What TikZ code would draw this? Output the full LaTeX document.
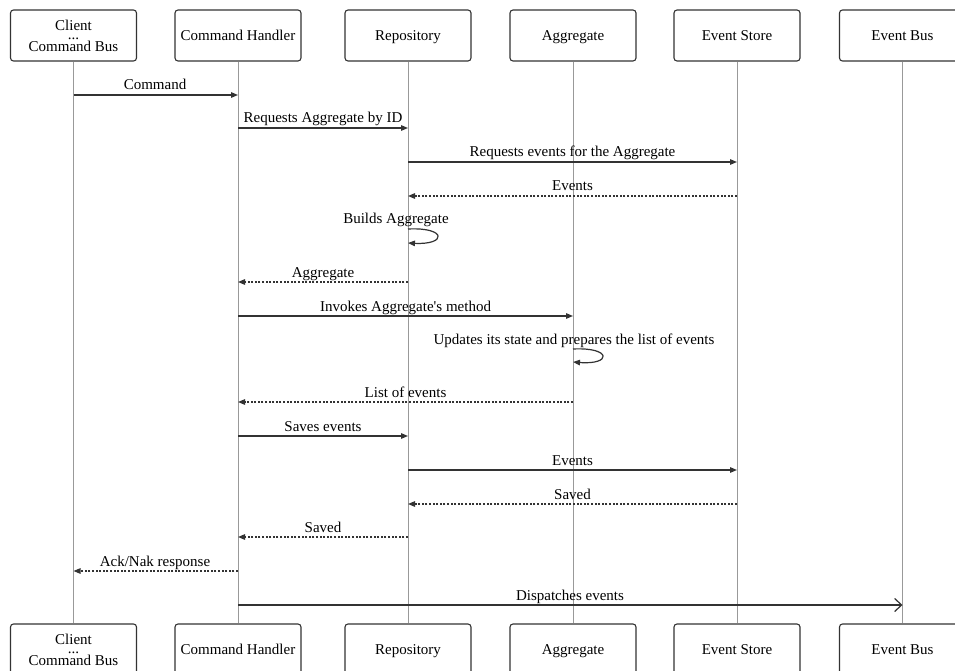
\documentclass[tikz,border=0pt]{standalone}
\usepackage{fontspec}
\setmainfont{Liberation Serif}[Ligatures=TeXOff]
\usetikzlibrary{arrows.meta}
\definecolor{edge}{HTML}{333333}
\definecolor{life}{HTML}{999999}
\tikzset{
  actor/.style={draw=edge, line width=1.1pt, fill=white, rounded corners=3pt,
    minimum width=126pt, minimum height=51pt, inner sep=0pt, align=center,
    font=\fontsize{15}{17}\selectfont},
  oneline/.style={actor, text height=13pt, text depth=3pt},
  lifeline/.style={draw=life, line width=0.8pt},
  msg/.style={draw=edge, line width=1.2pt, -{Triangle[length=7pt,width=5.5pt]}},
  reply/.style={msg, dash pattern=on 2pt off 1.6pt},
  async/.style={draw=edge, line width=1.2pt, -{Straight Barb[length=7pt,width=13pt,line width=1.2pt]}},
  lbl/.style={anchor=base, inner sep=0pt, font=\fontsize{15}{17}\selectfont}
}
\begin{document}
\begin{tikzpicture}[x=1pt, y=-1pt]
\clip (0,0) rectangle (955,671);
\fill[white] (0,0) rectangle (955,671);

% participants, top row and bottom row
\node[actor] (cl-top) at (73.5,35.5) {Client\\[-8pt]...\\[-5pt]Command Bus};
\node[actor] (cl-bot) at (73.5,649.5) {Client\\[-8pt]...\\[-5pt]Command Bus};
\draw[lifeline] (cl-top.south) -- (cl-bot.north);
\foreach \nm/\xx/\txt in {ch/238/{Command Handler},
                          re/408/{Repository},
                          ag/573/{Aggregate},
                          es/737/{Event Store},
                          eb/902.5/{Event Bus}}{
  \node[oneline] (\nm-top) at (\xx,35.5) {\txt};
  \node[oneline] (\nm-bot) at (\xx,649.5) {\txt};
  \draw[lifeline] (\nm-top.south) -- (\nm-bot.north);
}

% message anchors on the lifelines
\foreach \nm in {cl,ch,re,ag,es,eb}{
  \foreach \yy in {95,128,162,196,229,243,282,316,349,362,402,436,470,504,537,571,605}{
    \coordinate (\nm-\yy) at (\nm-top.south |- 0,\yy);
  }
}

% messages
\draw[msg] (cl-95) -- (ch-95);
\node[lbl] (m1) at (155,90) {Command};

\draw[msg] (ch-128) -- (re-128);
\node[lbl] (m2) at (323,123) {Requests Aggregate by ID};

\draw[msg] (re-162) -- (es-162);
\node[lbl] (m3) at (572.5,157) {Requests events for the Aggregate};

\draw[reply] (es-196) -- (re-196);
\node[lbl] (m4) at (572.5,191) {Events};

\node[lbl] (m5) at (396,223) {Builds Aggregate};
\draw[msg] (re-229) .. controls (447,227) and (447,245) .. (re-243);

\draw[reply] (re-282) -- (ch-282);
\node[lbl] (m6) at (323,277) {Aggregate};

\draw[msg] (ch-316) -- (ag-316);
\node[lbl] (m7) at (405.5,311) {Invokes Aggregate's method};

\node[lbl] (m8) at (574,344) {Updates its state and prepares the list of events};
\draw[msg] (ag-349) .. controls (612,347) and (612,365) .. (ag-362);

\draw[reply] (ag-402) -- (ch-402);
\node[lbl] (m9) at (405.5,397) {List of events};

\draw[msg] (ch-436) -- (re-436);
\node[lbl] (m10) at (323,431) {Saves events};

\draw[msg] (re-470) -- (es-470);
\node[lbl] (m11) at (572.5,465) {Events};

\draw[reply] (es-504) -- (re-504);
\node[lbl] (m12) at (572.5,499) {Saved};

\draw[reply] (re-537) -- (ch-537);
\node[lbl] (m13) at (323,532) {Saved};

\draw[reply] (ch-571) -- (cl-571);
\node[lbl] (m14) at (155,566) {Ack/Nak response};

\draw[async] (ch-605) -- (eb-605);
\node[lbl] (m15) at (570,600) {Dispatches events};
\end{tikzpicture}
\end{document}
